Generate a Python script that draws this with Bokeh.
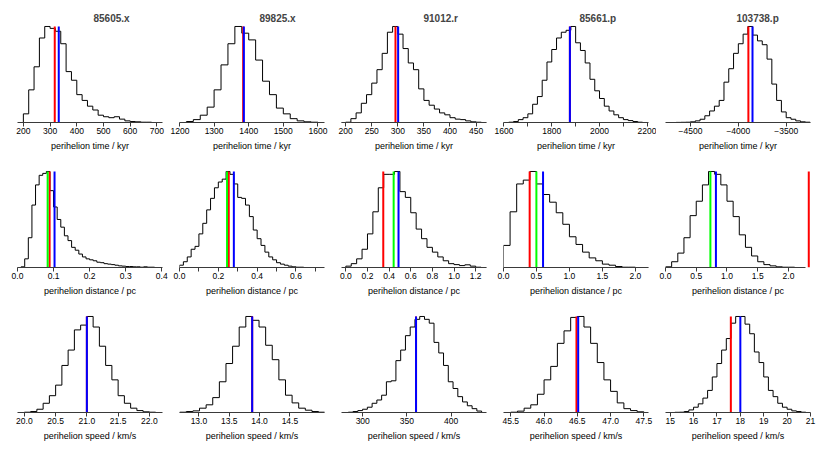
from bokeh.plotting import figure
from bokeh.layouts import gridplot
from bokeh.models import Range1d, FixedTicker, PrintfTickFormatter
from bokeh.embed import file_html
from bokeh.resources import INLINE

STARS = ["85605.x", "89825.x", "91012.r", "85661.p", "103738.p"]
TIME_XLABEL = "perihelion time / kyr"
DIST_XLABEL = "perihelion distance / pc"
SPEED_XLABEL = "perihelion speed / km/s"

# ---------------- perihelion time (relative counts per bin) ----------------
TIME_BIN_START = [200, 1220, 190, 1600, -4750]
TIME_BIN_WIDTH = [20, 20, 10, 20, 50]
TIME_COUNTS_85605 = [9, 34, 58, 88, 100, 98, 95, 82, 53, 44, 29, 23, 17, 13, 7.6, 6, 5, 6, 3.5, 1.7, 1, 0.7, 0.3, 0.3, 0]
TIME_COUNTS_89825 = [1, 3, 7.6, 16, 34, 60, 82, 100, 93, 86, 65, 43, 29, 15, 9, 4, 1.7, 0.7, 0.3]
TIME_COUNTS_91012 = [0, 0.3, 4, 10, 20, 29, 41, 55, 72, 94, 100, 92, 77, 62, 55, 35, 23, 18, 14, 10, 8, 5, 3.5, 3, 1.7, 0.7, 0.3, 0]
TIME_COUNTS_85661 = [0, 0.3, 1, 3, 5, 9, 19, 27, 44, 63, 76, 88, 94, 96, 100, 83, 75, 62, 45, 33, 25, 17, 12, 8, 5, 3, 2, 1, 0.3]
TIME_COUNTS_103738 = [0, 0, 0.1, 0.2, 0.3, 0.7, 1.7, 3.4, 7, 12, 17, 23, 42, 56, 72, 82, 92, 100, 91, 85, 81, 66, 40, 23, 11, 5, 3.4, 1.7, 0.7, 0.3]
TIME_RED = [317.5, 1384, 295.5, 1876, -3895]
TIME_BLUE = [332.5, 1386, 300.6, 1876, -3852]

# ---------------- perihelion distance ----------------
DIST_BIN_START = [0.0, 0.0, 0.0, 0.0, 0.0]
DIST_BIN_WIDTH = [0.01, 0.02, 0.05, 0.1, 0.1]
DIST_COUNTS_85605 = [0, 0.7, 9, 31, 65, 86, 96, 98, 100, 80, 63, 50, 42, 33, 28, 21, 18, 14, 11, 9, 8, 7, 5.5, 5, 4, 3.5, 3, 2.4, 1.7, 1.4, 1, 1, 0.7, 0.7, 0.3, 0.7, 0.3, 0.3, 0, 0]
DIST_COUNTS_89825 = [2.4, 6, 11, 19, 22, 35, 46, 60, 72, 83, 89, 92, 100, 97, 87, 73, 72, 65, 53, 39, 30, 23, 16, 11, 8, 5, 3.5, 2.4, 1.4, 0.7, 0.3, 0.3, 0, 0, 0, 0, 0]
DIST_COUNTS_91012 = [1.4, 4, 9, 19, 35, 58, 83, 97, 97, 100, 79, 73, 57, 40, 30, 21, 16, 11, 7, 4, 3, 2, 2.8, 1.4, 0.3, 0]
DIST_COUNTS_85661 = [23, 58, 87, 91, 100, 87, 76, 68, 57, 45, 32, 24, 16, 10, 7, 3.5, 2.4, 1, 0.3, 0.3, 0, 0]
DIST_COUNTS_103738 = [0.7, 6, 15, 31, 54, 69, 86, 100, 97, 86, 69, 53, 34, 21, 12, 6, 3, 1.7, 0.7, 0.3, 0.3, 0]
DIST_RED = [0.089, 0.2537, 0.346, 0.397, 2.33]
DIST_GREEN = [0.0836, 0.245, 0.442, 0.499, 0.73]
DIST_BLUE = [0.1027, 0.28, 0.487, 0.60, 0.82]

# ---------------- perihelion speed ----------------
SPEED_BIN_START = [20.0, 12.683, 283.7, 45.5, 15.0]
SPEED_BIN_WIDTH = [0.1, 0.109, 5.385, 0.1, 0.2]
SPEED_COUNTS_85605 = [0.3, 1, 3.4, 9.6, 17.5, 28.5, 49, 65, 86, 91, 100, 89, 69, 49, 34, 17.5, 9.6, 4.5, 2, 0.7, 0.3, 0]
SPEED_COUNTS_89825 = [0.3, 1, 1.7, 4.5, 8, 15.5, 32, 51, 69, 89, 100, 96, 89, 70, 55, 34, 18, 10, 4.5, 2.4, 1, 0.3]
SPEED_COUNTS_91012 = [0.3, 1, 2, 3.4, 5.5, 9.6, 13, 18, 32, 33, 54, 65, 80, 89, 97, 100, 97, 93, 73, 62, 49, 32, 25, 16.5, 11, 7, 4, 1.5]
SPEED_COUNTS_85661 = [0.3, 1.4, 4.5, 8, 19, 34, 48, 72, 85, 99, 100, 89, 72, 52, 34, 22, 10, 4, 2, 0.7]
SPEED_COUNTS_103738 = [0, 0.2, 0.3, 1, 2.7, 5.5, 9, 15, 23, 37, 51, 65, 77, 93, 100, 100, 92, 82, 63, 52, 37, 23, 16.5, 9.6, 5.5, 3.4, 1.7, 1, 0.3]
SPEED_RED = [21.0, 13.878, 360.3, 46.487, 17.594]
SPEED_BLUE = [21.0, 13.878, 360.3, 46.513, 18.0]

TIME_COUNTS = [TIME_COUNTS_85605, TIME_COUNTS_89825, TIME_COUNTS_91012, TIME_COUNTS_85661, TIME_COUNTS_103738]
DIST_COUNTS = [DIST_COUNTS_85605, DIST_COUNTS_89825, DIST_COUNTS_91012, DIST_COUNTS_85661, DIST_COUNTS_103738]
SPEED_COUNTS = [SPEED_COUNTS_85605, SPEED_COUNTS_89825, SPEED_COUNTS_91012, SPEED_COUNTS_85661, SPEED_COUNTS_103738]

# ---------------- axis styling ----------------
TIME_AXES = [
    dict(xlim=(178, 721), ticks=[200, 300, 400, 500, 600, 700], minor=[], fmt="%d"),
    dict(xlim=(1200, 1619), ticks=[1200, 1300, 1400, 1500, 1600], minor=[], fmt="%d"),
    dict(xlim=(192, 470), ticks=[200, 250, 300, 350, 400, 450], minor=[], fmt="%d"),
    dict(xlim=(1598, 2205), ticks=[1600, 1800, 2000, 2200], minor=[1700, 1900, 2100], fmt="%d"),
    dict(xlim=(-4761, -3246), ticks=[-4500, -4000, -3500], minor=[], fmt="%d",
         over={-4500: "\u22124500", -4000: "\u22124000", -3500: "\u22123500"}),
]
DIST_AXES = [
    dict(xlim=(0.0, 0.402), ticks=[0.0, 0.1, 0.2, 0.3, 0.4], minor=[], fmt="%.1f"),
    dict(xlim=(0.0, 0.747), ticks=[0.0, 0.2, 0.4, 0.6], minor=[0.1, 0.3, 0.5, 0.7], fmt="%.1f"),
    dict(xlim=(-0.04, 1.30), ticks=[0.0, 0.2, 0.4, 0.6, 0.8, 1.0, 1.2], minor=[], fmt="%.1f"),
    dict(xlim=(0.0, 2.2), ticks=[0.0, 0.5, 1.0, 1.5, 2.0], minor=[], fmt="%.1f"),
    dict(xlim=(0.0, 2.28), xend=2.358, bright=3, ticks=[0.0, 0.5, 1.0, 1.5, 2.0], minor=[], fmt="%.1f"),
]
SPEED_AXES = [
    dict(xlim=(19.89, 22.21), ticks=[20.0, 20.5, 21.0, 21.5, 22.0], minor=[], fmt="%.1f"),
    dict(xlim=(12.68, 15.07), ticks=[13.0, 13.5, 14.0, 14.5], minor=[], fmt="%.1f"),
    dict(xlim=(276, 440), ticks=[300, 350, 400], minor=[], fmt="%d"),
    dict(xlim=(45.39, 47.57), ticks=[45.5, 46.0, 46.5, 47.0, 47.5], minor=[], fmt="%.1f"),
    dict(xlim=(14.8, 21.0), ticks=[15, 16, 17, 18, 19, 20, 21], minor=[], fmt="%d"),
]
TITLE_OFFSETS = [76, 80, 82, 76, 71]

FONT = "Liberation Sans"
AXIS_COLOR = "#3a3a3a"
PAGE_MARGIN = 8


def panel(counts, start, width, ax_cfg, xlabel, lines, col, row, title=None, title_offset=0):
    xlim = ax_cfg["xlim"]
    xend = ax_cfg.get("xend", xlim[1])
    extra_left = PAGE_MARGIN if col == 0 else 0
    extra_top = PAGE_MARGIN if row == 0 else 0
    p = figure(width=162 + extra_left, height=145 + extra_top,
               x_range=Range1d(xlim[0], xend), y_range=Range1d(0, 101),
               output_backend="svg", toolbar_location=None,
               min_border_left=9 + extra_left, min_border_right=ax_cfg.get("bright", 8),
               min_border_top=17 + extra_top, min_border_bottom=31)
    p.outline_line_color = None
    p.grid.visible = False
    p.yaxis.visible = False
    p.background_fill_color = "white"
    p.border_fill_color = "white"

    xs = [start]
    ys = [0]
    for i, c in enumerate(counts):
        x0 = start + i * width
        xs += [x0, x0 + width]
        ys += [c, c]
    xs.append(start + len(counts) * width)
    ys.append(0)
    p.line(xs, ys, line_color="black", line_width=1)

    for val, colr in lines:
        p.segment(x0=[val], y0=[0], x1=[val], y1=[100], line_color=colr, line_width=2)

    ax = p.xaxis[0]
    ax.ticker = FixedTicker(ticks=ax_cfg["ticks"], minor_ticks=ax_cfg["minor"])
    ax.formatter = PrintfTickFormatter(format=ax_cfg["fmt"])
    if "over" in ax_cfg:
        ax.major_label_overrides = ax_cfg["over"]
    ax.bounds = xlim
    ax.axis_line_color = AXIS_COLOR
    ax.axis_line_width = 1
    ax.major_tick_line_color = AXIS_COLOR
    ax.minor_tick_line_color = AXIS_COLOR
    ax.major_tick_in = 0
    ax.major_tick_out = 4
    ax.minor_tick_in = 0
    ax.minor_tick_out = 4
    ax.major_label_standoff = 1
    ax.major_label_text_font = FONT
    ax.major_label_text_font_size = "8.5px"
    ax.major_label_text_color = "black"
    ax.axis_label = xlabel
    ax.axis_label_standoff = 4
    ax.axis_label_text_font = FONT
    ax.axis_label_text_font_size = "9px"
    ax.axis_label_text_font_style = "normal"
    ax.axis_label_text_color = "black"

    if title:
        p.title.text = title
        p.title.align = "left"
        p.title.offset = title_offset
        p.title.text_font = FONT
        p.title.text_font_size = "10px"
        p.title.text_font_style = "bold"
        p.title.standoff = 4
    return p


rows = []
row = []
for i in range(5):
    row.append(panel(TIME_COUNTS[i], TIME_BIN_START[i], TIME_BIN_WIDTH[i], TIME_AXES[i], TIME_XLABEL,
                     [(TIME_RED[i], "#FF0000"), (TIME_BLUE[i], "#0000FF")], i, 0,
                     title=STARS[i], title_offset=TITLE_OFFSETS[i]))
rows.append(row)
row = []
for i in range(5):
    row.append(panel(DIST_COUNTS[i], DIST_BIN_START[i], DIST_BIN_WIDTH[i], DIST_AXES[i], DIST_XLABEL,
                     [(DIST_RED[i], "#FF0000"), (DIST_GREEN[i], "#00FF00"), (DIST_BLUE[i], "#0000FF")], i, 1))
rows.append(row)
row = []
for i in range(5):
    row.append(panel(SPEED_COUNTS[i], SPEED_BIN_START[i], SPEED_BIN_WIDTH[i], SPEED_AXES[i], SPEED_XLABEL,
                     [(SPEED_RED[i], "#FF0000"), (SPEED_BLUE[i], "#0000FF")], i, 2))
rows.append(row)

grid = gridplot(rows, toolbar_location=None)
open("out.html", "w").write(file_html(grid, INLINE))
